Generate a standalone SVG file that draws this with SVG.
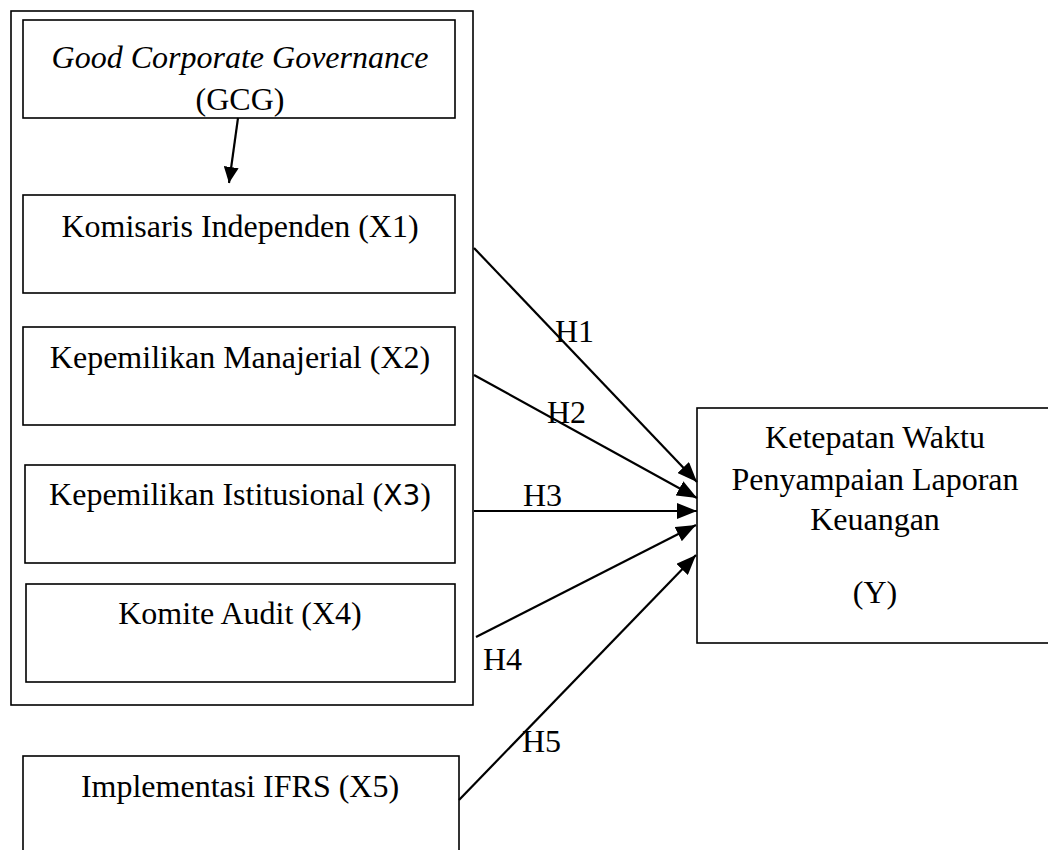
<svg xmlns="http://www.w3.org/2000/svg" width="1048" height="850" viewBox="0 0 1048 850">
<style>
.box{fill:#fff;stroke:#000;stroke-width:1.6}
.t{font-family:"Liberation Serif","Times New Roman",serif;font-size:32px;fill:#000}
.c{text-anchor:middle}
.ln{stroke:#000;stroke-width:2.2;fill:none}
</style>
<defs>
<marker id="ah" markerUnits="userSpaceOnUse" markerWidth="20" markerHeight="16" refX="20" refY="8" orient="auto">
<path d="M0,0 L20,8 L0,16 z" fill="#000"/>
</marker>
<marker id="ah2" markerUnits="userSpaceOnUse" markerWidth="16" markerHeight="15" refX="16" refY="7.5" orient="auto">
<path d="M0,0 L16,7.5 L0,15 z" fill="#000"/>
</marker>
</defs>
<rect width="1048" height="850" fill="#fff"/>
<g id="gcg-frame"><rect class="box" x="11" y="11" width="462" height="694"/></g>
<g id="gcg"><rect class="box" x="23" y="20" width="432" height="98"/>
<text class="t c" x="240" y="68" font-style="italic">Good Corporate Governance</text>
<text class="t c" x="240" y="110">(GCG)</text></g>
<g id="x1"><rect class="box" x="23" y="195" width="432" height="98"/>
<text class="t c" x="240" y="237">Komisaris Independen (X1)</text></g>
<g id="x2"><rect class="box" x="23" y="327" width="432" height="98"/>
<text class="t c" x="240" y="368">Kepemilikan Manajerial (X2)</text></g>
<g id="x3"><rect class="box" x="25" y="465" width="430" height="98"/>
<text class="t c" x="240" y="505">Kepemilikan Istitusional (<tspan font-family="'DejaVu Sans','Liberation Sans',sans-serif" font-size="28">X3</tspan>)</text></g>
<g id="x4"><rect class="box" x="26" y="584" width="429" height="98"/>
<text class="t c" x="240" y="624">Komite Audit (X4)</text></g>
<g id="x5"><rect class="box" x="23" y="756" width="436" height="110"/>
<text class="t c" x="240" y="797">Implementasi IFRS (X5)</text></g>
<g id="y"><rect class="box" x="697" y="408" width="370" height="235"/>
<text class="t c" x="875" y="448">Ketepatan Waktu</text>
<text class="t c" x="875" y="490">Penyampaian Laporan</text>
<text class="t c" x="875" y="530">Keuangan</text>
<text class="t c" x="875" y="603">(Y)</text></g>
<g id="connectors">
<line class="ln" x1="238" y1="118" x2="229" y2="183" marker-end="url(#ah2)"/>
<line class="ln" x1="474" y1="248" x2="697" y2="482" marker-end="url(#ah)"/>
<line class="ln" x1="474" y1="375" x2="697" y2="498" marker-end="url(#ah)"/>
<line class="ln" x1="474" y1="511" x2="697" y2="511" marker-end="url(#ah)"/>
<line class="ln" x1="476" y1="637" x2="696" y2="525" marker-end="url(#ah)"/>
<line class="ln" x1="459" y1="800" x2="696" y2="555" marker-end="url(#ah)"/>
<text class="t" x="555" y="342">H1</text>
<text class="t" x="547" y="423">H2</text>
<text class="t" x="523" y="506">H3</text>
<text class="t" x="483" y="670">H4</text>
<text class="t" x="522" y="752">H5</text>
</g>
</svg>
